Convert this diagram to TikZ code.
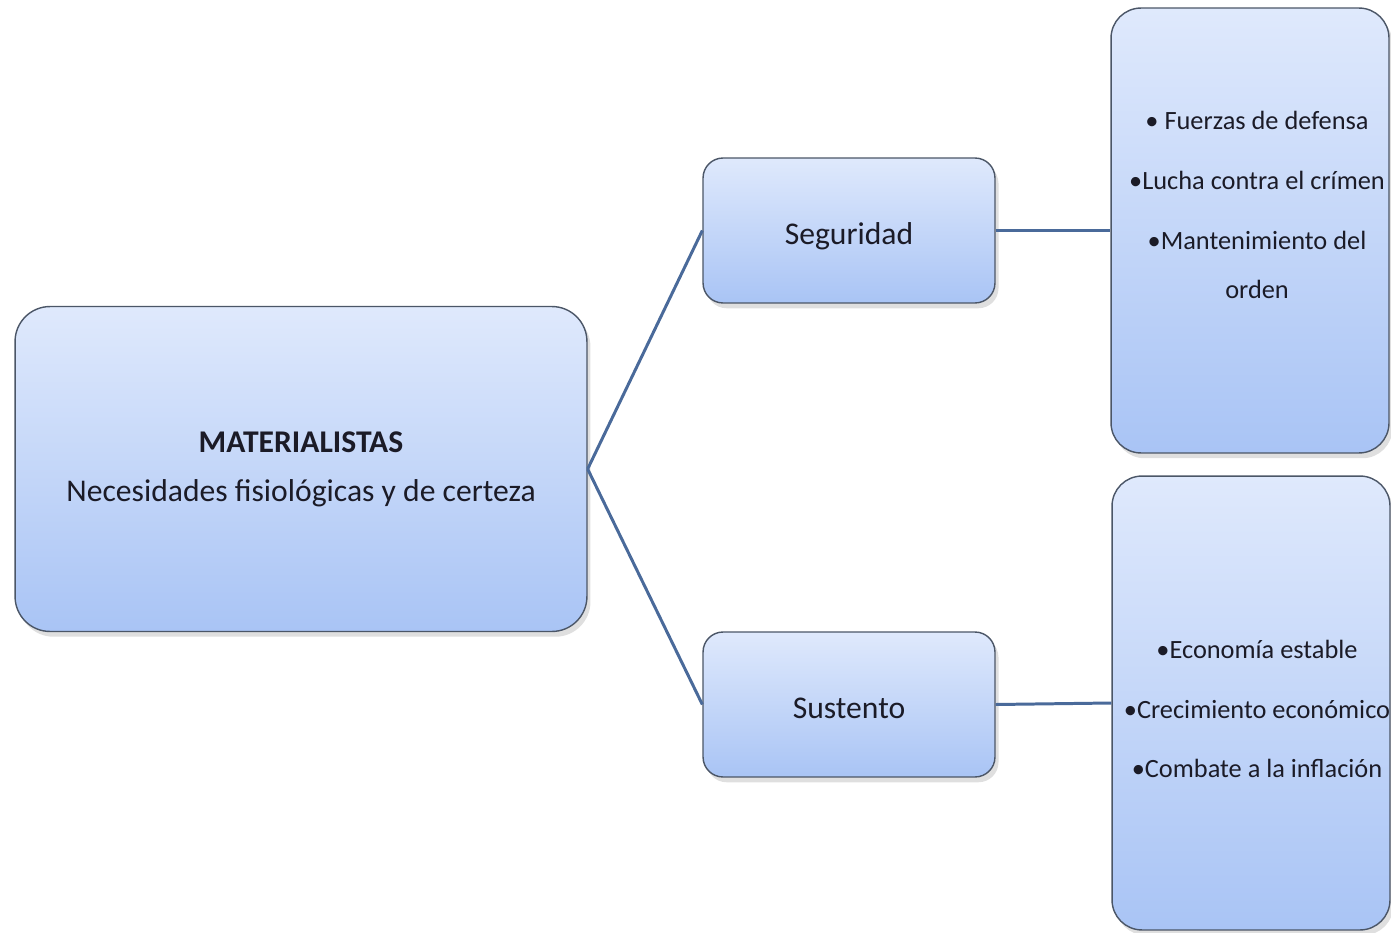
\documentclass[tikz,border=0pt]{standalone}
\usepackage{fontspec}
\setmainfont{Carlito}
\usetikzlibrary{shadows}

\definecolor{boxtop}{HTML}{DFE9FC}
\definecolor{boxbot}{HTML}{A9C4F5}
\definecolor{boxline}{HTML}{4B5667}
\definecolor{linkblue}{HTML}{4A6A9A}
\definecolor{textdark}{HTML}{1B1B27}

\begin{document}
\begin{tikzpicture}[
  x=0.02cm,
  y=-0.02cm,
  caja/.style={
    draw=boxline,
    line width=0.8pt,
    top color=boxtop,
    bottom color=boxbot,
    drop shadow={opacity=0.25, shadow xshift=2pt, shadow yshift=-3pt},
    text=textdark,
    align=center
  },
  cajamedia/.style={
    caja,
    rounded corners=0.4cm,
    minimum width=5.84cm,
    minimum height=2.9cm,
    text height=20pt,
    text depth=4pt,
    font=\fontsize{18}{28}\selectfont
  },
  lista/.style={
    text=textdark,
    align=center,
    font=\fontsize{15}{28}\selectfont
  },
  enlace/.style={
    draw=linkblue,
    line width=1.7pt
  }
]
\useasboundingbox (0,0) rectangle (1391,932);

%--------------------
% Caja principal
%--------------------
\node[caja, rounded corners=0.7cm, minimum width=11.44cm, minimum height=6.5cm,
  font=\fontsize{18}{28}\selectfont] (mat) at (301,469)
  {\textbf{MATERIALISTAS}\\Necesidades fisiológicas y de certeza};

%--------------------
% Cajas intermedias
%--------------------
\node[cajamedia] (seg) at (849,230.5) {Seguridad};
\node[cajamedia] (sus) at (849,704.5) {Sustento};

%--------------------
% Cajas de la derecha
%--------------------
\node[caja, rounded corners=0.6cm, minimum width=5.56cm, minimum height=8.9cm] (segbox) at (1250,230.5) {};
\node[caja, rounded corners=0.6cm, minimum width=5.56cm, minimum height=9.08cm] (susbox) at (1251,703) {};

\node[lista] (segtxt) at (1257,205)
  {• Fuerzas de defensa\\[6pt]•Lucha contra el crímen\\[6pt]•Mantenimiento del\\orden};
\node[lista] (sustxt) at (1257,709)
  {•Economía estable\\[6pt]•Crecimiento económico\\[6pt]•Combate a la inflación};

%--------------------
% Enlaces
%--------------------
\draw[enlace] (mat.east) -- (seg.west);
\draw[enlace] (mat.east) -- (sus.west);
\draw[enlace] (seg.east) -- (segbox.west);
\draw[enlace] (sus.east) -- (susbox.west);

\end{tikzpicture}
\end{document}
